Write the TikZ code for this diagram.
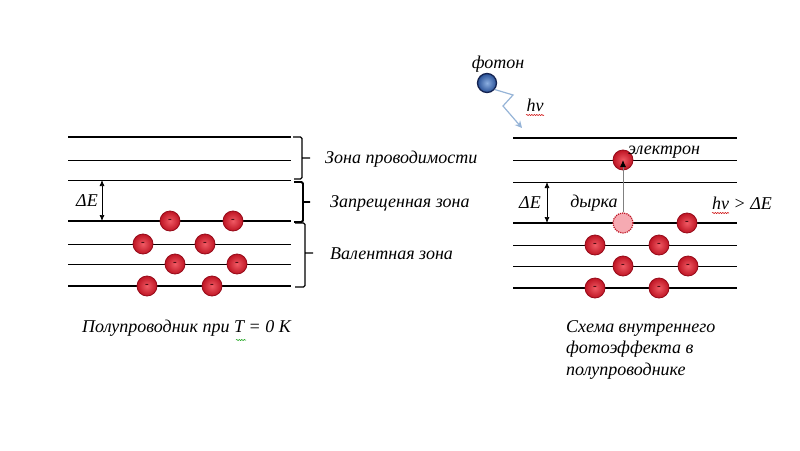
\documentclass[tikz,border=0pt]{standalone}
\usepackage{fontspec}
\setmainfont{Liberation Serif}
\usetikzlibrary{arrows.meta,decorations.pathmorphing}

\definecolor{elin}{RGB}{240,90,100}
\definecolor{elout}{RGB}{190,20,35}
\definecolor{elrim}{RGB}{150,10,25}
\definecolor{holefill}{RGB}{246,170,178}
\definecolor{phin}{RGB}{140,175,225}
\definecolor{phout}{RGB}{40,80,150}
\definecolor{phrim}{RGB}{20,35,80}
\definecolor{wavec}{RGB}{150,180,215}

\tikzset{
    level/.style={line width=1pt},
    edge/.style={line width=1.6pt},
    electron/.style={circle, minimum size=20pt, inner sep=0pt, draw=elrim, line width=0.8pt,
        inner color=elin, outer color=elout, font=\fontsize{11}{11}\selectfont\bfseries, text=elrim!40!black},
    hole/.style={circle, minimum size=20pt, inner sep=0pt, draw=elout, densely dotted, line width=1.2pt, fill=holefill},
    photon/.style={circle, minimum size=19pt, inner sep=0pt, draw=phrim, line width=1.3pt,
        inner color=phin, outer color=phout},
    lbl/.style={font=\itshape\fontsize{18}{21}\selectfont, inner sep=0pt},
    gaparrow/.style={{Latex[length=6pt,width=5pt]}-{Latex[length=6pt,width=5pt]}, line width=0.7pt},
    zone/.style={line width=1.4pt, rounded corners=1.5pt},
    squig/.style={decorate, decoration={snake, amplitude=0.6pt, segment length=2.5pt}, line width=0.5pt}
}

\begin{document}
\begin{tikzpicture}[x=1pt, y=-1pt]
    \useasboundingbox (0,0) rectangle (800,450);

    % left: semiconductor at T = 0
    \foreach \y in {160,180,244,264}
        \draw[level] (68,\y) -- (291,\y);
    \foreach \y in {137,221,286}
        \draw[edge] (68,\y) -- (291,\y);

    \draw[gaparrow] (102,180) -- (102,221);
    \node[lbl] (dEL) at (87,201) {ΔE};

    \foreach \x/\y [count=\i] in {170/221, 233/221, 143/244, 205/244, 175/264, 237/264, 147/286, 212/286}
        \node[electron] (eL\i) at (\x,\y) {-};

    \draw[zone] (293,137) -- (302,137) -- (302,179) -- (294,179) (302,158) -- (310,158);
    \draw[zone, line width=1.9pt] (294,182) -- (303,182) -- (303,222) -- (294,222) (303,202) -- (310,202);
    \draw[zone] (295,223) -- (305,223) -- (305,287) -- (295,287) (305,253) -- (313,253);

    \node[lbl, anchor=west] (zcond) at (325,159) {Зона проводимости};
    \node[lbl, anchor=west] (zgap) at (330,203) {Запрещенная зона};
    \node[lbl, anchor=west] (zval) at (330,254) {Валентная зона};

    \node[lbl, anchor=west] (capL) at (82,328) {Полупроводник при T = 0 K};
    \draw[green!60!black, squig] (236,340) -- (246,340);

    % right: internal photoeffect
    \foreach \y in {160,182,245,266}
        \draw[level] (513,\y) -- (737,\y);
    \foreach \y in {138,223,288}
        \draw[edge] (513,\y) -- (737,\y);

    \draw[gaparrow] (547,182) -- (547,223);
    \node[lbl] (dER) at (530,203) {ΔE};

    \foreach \x/\y [count=\i] in {687/223, 595/245, 659/245, 623/266, 688/266, 595/288, 659/288}
        \node[electron] (eR\i) at (\x,\y) {-};

    \node[hole] (hole) at (623,223) {};
    \node[electron] (el) at (623,160) {};
    \draw[gray, line width=0.9pt, -{Latex[black,length=7pt,width=6pt]}] (hole.north) -- (el.center);

    \node[lbl, anchor=west] (elec) at (628,152) {электрон};
    \node[lbl] (dyr) at (594,203) {дырка};
    \node[lbl, anchor=west] (cond) at (712,203) {hν > ΔE};
    \draw[red!80!black, squig] (712,213) -- (729,213);

    \node[photon] (ph) at (487,83) {};
    \node[lbl] (phlbl) at (498,64) {фотон};
    \coordinate (phend) at (522,128);
    \draw[wavec, line width=1.2pt, -{Stealth[open,length=7pt,width=7pt]}] (ph.-40) -- (513,95) -- (503,106) -- (phend);
    \node[lbl] (hnu) at (535,105) {hν};
    \draw[red!80!black, squig] (526,115) -- (544,115);

    \node[lbl, anchor=north west, align=left, font=\itshape\fontsize{18}{21.5}\selectfont] (capR) at (566,320)
        {Схема внутреннего\\фотоэффекта в\\полупроводнике};
\end{tikzpicture}
\end{document}
